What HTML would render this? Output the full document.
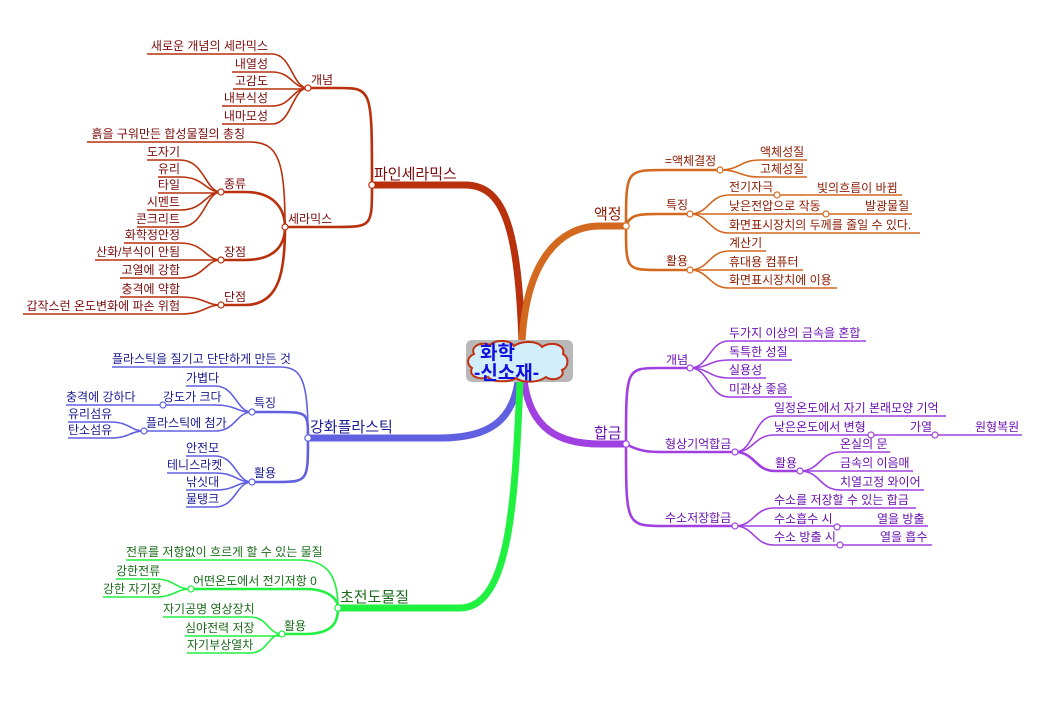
<!DOCTYPE html>
<html><head><meta charset="utf-8"><style>
html,body{margin:0;padding:0;background:#fff;}
svg{display:block;font-family:"Liberation Sans","Noto Sans CJK KR","NanumGothic",sans-serif;}
.lf{fill:none;stroke-width:1.6}
.md{fill:none;stroke-width:2.6}
.mn{fill:none;stroke-width:7;stroke-linecap:round}
text{font-size:12px}
.big{font-size:15px}
circle{fill:#fff;stroke-width:1.2}
</style></head><body>
<svg width="1041" height="715" viewBox="0 0 1041 715" xmlns="http://www.w3.org/2000/svg">
<rect width="1041" height="715" fill="#fff"/>

<!-- RED: 파인세라믹스 -->
<g stroke="#b8300c">
<path class="mn" d="M372,185 H465 C505,185 518,230 522,342"/>
<path class="md" d="M308,88 H338 C372,88 372,88 372,185"/>
<path class="md" d="M285,227 H335 C372,227 372,227 372,185"/>
<path class="lf" d="M147,54 H272 C292,54 292,88 308,88"/>
<path class="lf" d="M232,72 H272 C292,72 292,88 308,88"/>
<path class="lf" d="M233,89 H308"/>
<path class="lf" d="M222,106 H272 C292,106 292,88 308,88"/>
<path class="lf" d="M222,124 H272 C292,124 292,88 308,88"/>
<path class="lf" d="M87,142 H250 C278,142 285,160 285,227"/>
<path class="md" d="M221,192 H245 C275,192 285,210 285,227"/>
<path class="md" d="M221,260 H245 C275,260 285,245 285,227"/>
<path class="md" d="M221,305 H245 C280,305 285,270 285,227"/>
<path class="lf" d="M147,160 H180 C205,160 205,192 221,192"/>
<path class="lf" d="M158,177 H180 C205,177 205,192 221,192"/>
<path class="lf" d="M158,193 H221"/>
<path class="lf" d="M147,210 H180 C205,210 205,192 221,192"/>
<path class="lf" d="M137,227 H180 C205,227 205,192 221,192"/>
<path class="lf" d="M124,243 H180 C205,243 205,260 221,260"/>
<path class="lf" d="M95,260 H221"/>
<path class="lf" d="M120,278 H180 C205,278 205,260 221,260"/>
<path class="lf" d="M120,297 H180 C205,297 205,305 221,305"/>
<path class="lf" d="M23,314 H180 C205,314 205,305 221,305"/>
<circle cx="372" cy="185" r="3.2"/><circle cx="308" cy="88" r="3"/><circle cx="285" cy="227" r="3"/>
<circle cx="221" cy="192" r="3"/><circle cx="221" cy="260" r="3"/><circle cx="221" cy="305" r="3"/>
</g>
<g fill="#7a0a0a">
<text class="big" x="374" y="179">파인세라믹스</text>
<text x="311" y="84">개념</text>
<text x="288" y="223">세라믹스</text>
<text x="224" y="188">종류</text>
<text x="224" y="256">장점</text>
<text x="224" y="301">단점</text>
<g text-anchor="end">
<text x="268" y="50">새로운 개념의 세라믹스</text>
<text x="268" y="68">내열성</text>
<text x="268" y="85">고감도</text>
<text x="268" y="102">내부식성</text>
<text x="268" y="120">내마모성</text>
<text x="245" y="138">흙을 구워만든 합성물질의 총칭</text>
<text x="180" y="156">도자기</text>
<text x="180" y="173">유리</text>
<text x="180" y="189">타일</text>
<text x="180" y="206">시멘트</text>
<text x="180" y="223">콘크리트</text>
<text x="180" y="239">화학정안정</text>
<text x="180" y="256">산화/부식이 안됨</text>
<text x="180" y="274">고열에 강함</text>
<text x="180" y="293">충격에 약함</text>
<text x="180" y="310">갑작스런 온도변화에 파손 위험</text>
</g></g>

<!-- ORANGE: 액정 -->
<g stroke="#d2691e">
<path class="mn" d="M522,342 C526,260 560,226 600,226 H626"/>
<path class="md" d="M626,226 C626,170 626,170 665,170 H720"/>
<path class="md" d="M626,226 C630,214 640,214 660,214 H690"/>
<path class="md" d="M626,226 C626,270 626,270 660,270 H690"/>
<path class="lf" d="M720,170 C740,170 740,160 760,160 H807"/>
<path class="lf" d="M720,170 C740,170 740,177 760,177 H807"/>
<path class="lf" d="M690,214 C709,214 709,195 729,195 H902"/>
<path class="lf" d="M690,214 H912"/>
<path class="lf" d="M690,214 C709,214 709,233 729,233 H920"/>
<path class="lf" d="M690,270 C709,270 709,251 729,251 H766"/>
<path class="lf" d="M690,270 H803"/>
<path class="lf" d="M690,270 C709,270 709,288 729,288 H837"/>
<circle cx="626" cy="226" r="3.2"/><circle cx="720" cy="170" r="3"/><circle cx="690" cy="214" r="3"/><circle cx="690" cy="270" r="3"/>
<circle cx="777" cy="195" r="3"/><circle cx="826" cy="214" r="3"/>
</g>
<g fill="#8b1a00">
<text class="big" x="594" y="219">액정</text>
<text x="665" y="165">=액체결정</text>
<text x="666" y="209">특징</text>
<text x="666" y="265">활용</text>
<text x="760" y="156">액체성질</text>
<text x="760" y="173">고체성질</text>
<text x="729" y="191">전기자극</text>
<text x="817" y="192">빛의흐름이 바뀜</text>
<text x="729" y="210">낮은전압으로 작동</text>
<text x="865" y="210">발광물질</text>
<text x="729" y="229">화면표시장치의 두께를 줄일 수 있다.</text>
<text x="729" y="247">계산기</text>
<text x="729" y="266">휴대용 컴퓨터</text>
<text x="729" y="284">화면표시장치에 이용</text>
</g>

<!-- PURPLE: 합금 -->
<g stroke="#a040e0">
<path class="mn" d="M524,380 C530,430 560,444 600,444 H626"/>
<path class="md" d="M626,444 C626,368 626,368 660,368 H690"/>
<path class="md" d="M626,444 C640,452 650,452 665,452 H735"/>
<path class="md" d="M626,444 C626,526 626,526 665,526 H735"/>
<path class="lf" d="M690,368 C709,368 709,341 729,341 H866"/>
<path class="lf" d="M690,368 C709,368 709,360 729,360 H792"/>
<path class="lf" d="M690,368 C709,368 709,378 729,378 H766"/>
<path class="lf" d="M690,368 C709,368 709,397 729,397 H792"/>
<path class="lf" d="M735,452 C754,452 754,416 774,416 H946"/>
<path class="lf" d="M735,452 C754,452 754,435 774,435 H1022"/>
<path class="md" d="M735,452 C755,452 755,471 775,471 H800"/>
<path class="lf" d="M800,471 C820,471 820,452 840,452 H890"/>
<path class="lf" d="M800,471 H913"/>
<path class="lf" d="M800,471 C820,471 820,490 840,490 H924"/>
<path class="lf" d="M735,526 C754,526 754,508 774,508 H916"/>
<path class="lf" d="M735,526 H928"/>
<path class="lf" d="M735,526 C754,526 754,545 774,545 H932"/>
<circle cx="626" cy="444" r="3.2"/><circle cx="690" cy="368" r="3"/><circle cx="735" cy="452" r="3"/><circle cx="735" cy="526" r="3"/>
<circle cx="800" cy="471" r="3"/><circle cx="871" cy="435" r="3"/><circle cx="935" cy="435" r="3"/>
<circle cx="837" cy="527" r="3"/><circle cx="840" cy="545" r="3"/>
</g>
<g fill="#6a10b0">
<text class="big" x="594" y="438">합금</text>
<text x="666" y="364">개념</text>
<text x="665" y="448">형상기억합금</text>
<text x="665" y="522">수소저장합금</text>
<text x="775" y="467">활용</text>
<text x="729" y="337">두가지 이상의 금속을 혼합</text>
<text x="729" y="356">독특한 성질</text>
<text x="729" y="374">실용성</text>
<text x="729" y="393">미관상 좋음</text>
<text x="774" y="412">일정온도에서 자기 본래모양 기억</text>
<text x="774" y="431">낮은온도에서 변형</text>
<text x="910" y="431">가열</text>
<text x="975" y="431">원형복원</text>
<text x="840" y="448">온실의 문</text>
<text x="840" y="467">금속의 이음매</text>
<text x="840" y="486">치열고정 와이어</text>
<text x="774" y="504">수소를 저장할 수 있는 합금</text>
<text x="774" y="523">수소흡수 시</text>
<text x="877" y="523">열을 방출</text>
<text x="774" y="541">수소 방출 시</text>
<text x="880" y="541">열을 흡수</text>
</g>

<!-- BLUE: 강화플라스틱 -->
<g stroke="#6060e0">
<path class="mn" d="M518,382 C512,420 490,438 440,438 H308"/>
<path class="lf" d="M112,367 H280 C302,367 308,380 308,438"/>
<path class="md" d="M252,412 H275 C308,412 308,412 308,438"/>
<path class="md" d="M252,482 H275 C308,482 308,482 308,438"/>
<path class="lf" d="M186,386 H215 C236,386 236,412 252,412"/>
<path class="lf" d="M66,405 H215 C236,405 236,412 252,412"/>
<path class="lf" d="M144,431 H215 C236,431 236,412 252,412"/>
<path class="lf" d="M68,422 H110 C130,422 130,431 144,431"/>
<path class="lf" d="M68,438 H110 C130,438 130,431 144,431"/>
<path class="lf" d="M186,456 H215 C236,456 236,482 252,482"/>
<path class="lf" d="M167,473 H215 C236,473 236,482 252,482"/>
<path class="lf" d="M186,490 H215 C236,490 236,482 252,482"/>
<path class="lf" d="M186,507 H215 C236,507 236,482 252,482"/>
<circle cx="308" cy="438" r="3.2"/><circle cx="252" cy="412" r="3"/><circle cx="252" cy="482" r="3"/>
<circle cx="163" cy="405" r="3"/><circle cx="144" cy="431" r="3"/>
</g>
<g fill="#1a1a90">
<text class="big" x="310" y="432">강화플라스틱</text>
<text x="254" y="407">특징</text>
<text x="254" y="477">활용</text>
<text x="112" y="363">플라스틱을 질기고 단단하게 만든 것</text>
<text x="186" y="382">가볍다</text>
<text x="163" y="401">강도가 크다</text>
<text x="66" y="401">충격에 강하다</text>
<text x="146" y="427">플라스틱에 첨가</text>
<text x="68" y="418">유리섬유</text>
<text x="68" y="434">탄소섬유</text>
<text x="186" y="452">안전모</text>
<text x="167" y="469">테니스라켓</text>
<text x="186" y="486">낚싯대</text>
<text x="186" y="503">물탱크</text>
</g>

<!-- GREEN: 초전도물질 -->
<g stroke="#20f040">
<path class="mn" d="M520,382 C515,500 510,608 460,608 H338"/>
<path class="lf" d="M126,560 H300 C330,560 338,580 338,608"/>
<path class="md" d="M191,589 H305 C330,589 338,600 338,608"/>
<path class="md" d="M282,634 H305 C335,634 338,620 338,608"/>
<path class="lf" d="M116,579 H155 C175,579 175,589 191,589"/>
<path class="lf" d="M103,597 H155 C175,597 175,589 191,589"/>
<path class="lf" d="M163,617 H250 C268,617 268,634 282,634"/>
<path class="lf" d="M185,636 H282"/>
<path class="lf" d="M187,653 H250 C268,653 268,634 282,634"/>
<circle cx="338" cy="608" r="3.2"/><circle cx="191" cy="589" r="3"/><circle cx="282" cy="634" r="3"/>
</g>
<g fill="#1a6a1a">
<text class="big" x="340" y="602">초전도물질</text>
<text x="193" y="585">어떤온도에서 전기저항 0</text>
<text x="284" y="630">활용</text>
<text x="126" y="556">전류를 저항없이 흐르게 할 수 있는 물질</text>
<text x="116" y="575">강한전류</text>
<text x="103" y="593">강한 자기장</text>
<text x="163" y="613">자기공명 영상장치</text>
<text x="185" y="632">심야전력 저장</text>
<text x="187" y="649">자기부상열차</text>
</g>

<!-- CENTER -->
<rect x="466" y="340" width="107" height="42" rx="6" fill="#b8b8b8"/>
<path d="M474,354 C470,346 482,341 490,345 C496,339 510,340 514,346 C522,340 538,341 542,347 C550,341 566,344 563,354 C570,358 568,368 562,370 C566,378 552,382 546,377 C538,383 522,383 516,378 C508,383 492,382 488,377 C478,381 468,375 472,368 C466,364 467,357 474,354 Z" fill="#d2edfb" stroke="#c03010" stroke-width="2"/>
<text x="480" y="359" fill="#1010e0" font-weight="bold" style="font-size:19px">화학</text>
<text x="474" y="379" fill="#1010e0" font-weight="bold" style="font-size:19px">-신소재-</text>
</svg>
</body></html>
